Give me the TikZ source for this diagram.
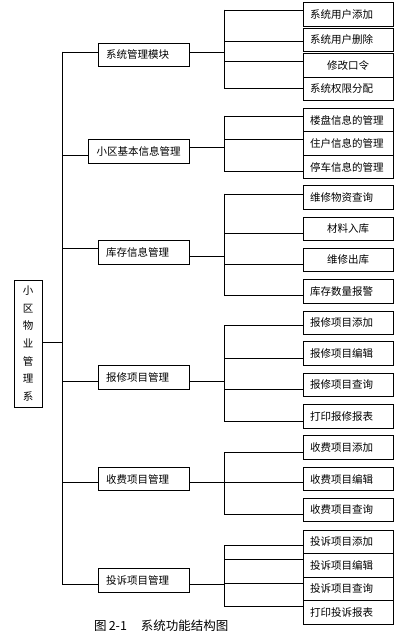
\documentclass[tikz,border=0pt]{standalone}
\usepackage{fontspec}
\newfontfamily\cjk{Noto Sans CJK SC}
\begin{document}
\begin{tikzpicture}[x=1pt,y=-1pt,
  ln/.style={line width=0.9pt, line cap=rect},
  bx/.style={draw, line width=0.9pt, inner sep=0pt, outer sep=0pt, minimum height=23.5pt, font=\cjk\fontsize{10.5}{12}\selectfont},
  lbx/.style={bx, text width=76pt, minimum width=90pt, align=left},
  cbx/.style={bx, text width=76pt, minimum width=90pt, align=center},
  pbx/.style={bx, text width=75pt, minimum width=91pt, align=left},
]
\useasboundingbox (0,0) rectangle (403,636);
% root
\node[draw, line width=0.9pt, inner sep=0pt, outer sep=0pt, minimum width=28pt, minimum height=127pt, align=center, font=\cjk\fontsize{10.5}{17.7}\selectfont] (root) at (28,343.5) {小\\区\\物\\业\\管\\理\\系};
% parents
\node[pbx] (p1) at (143.5,55) {系统管理模块};
\node[bx, minimum width=101pt, minimum height=24pt] (p2) at (138.5,151) {小区基本信息管理};
\node[pbx] (p3) at (143.5,252.5) {库存信息管理};
\node[pbx] (p4) at (143.5,377.5) {报修项目管理};
\node[pbx] (p5) at (143.5,479) {收费项目管理};
\node[pbx] (p6) at (143.5,580.5) {投诉项目管理};
% group 1
\node[lbx] (c11) at (348,14.5) {系统用户添加};
\node[lbx] (c12) at (348,40) {系统用户删除};
\node[cbx] (c13) at (348,65.3) {修改口令};
\node[lbx] (c14) at (348,88.75) {系统权限分配};
% group 2
\node[lbx] (c21) at (348,120) {楼盘信息的管理};
\node[lbx] (c22) at (348,143.5) {住户信息的管理};
\node[lbx] (c23) at (348,167) {停车信息的管理};
% group 3
\node[lbx] (c31) at (348,197.5) {维修物资查询};
\node[cbx] (c32) at (348,229) {材料入库};
\node[cbx] (c33) at (348,260) {维修出库};
\node[lbx] (c34) at (348,291.5) {库存数量报警};
% group 4
\node[lbx] (c41) at (348,323) {报修项目添加};
\node[lbx] (c42) at (348,353.5) {报修项目编辑};
\node[lbx] (c43) at (348,385) {报修项目查询};
\node[lbx] (c44) at (348,416.5) {打印报修报表};
% group 5
\node[lbx] (c51) at (348,447.5) {收费项目添加};
\node[lbx] (c52) at (348,479) {收费项目编辑};
\node[lbx] (c53) at (348,510) {收费项目查询};
% group 6
\node[lbx] (c61) at (348,541.75) {投诉项目添加};
\node[lbx] (c62) at (348,565.25) {投诉项目编辑};
\node[lbx] (c63) at (348,588.75) {投诉项目查询};
\node[lbx] (c64) at (348,612.25) {打印投诉报表};
% caption
\node[anchor=west, inner sep=0pt, font=\cjk\fontsize{12.5}{14}\selectfont] (cap) at (94,626) {图\,2-1\hspace{14pt}系统功能结构图};

% main trunk
\draw[ln] ([yshift=1.5pt]root.east) -- ++(20,0);
\draw[ln] ([yshift=3pt]p1.west) -- ++(-36,0) coordinate (m1);
\draw[ln] ([yshift=-4pt]p2.west) -- ++(-26,0);
\draw[ln] ([yshift=4.5pt]p3.west) -- ++(-36,0);
\draw[ln] ([yshift=-3.5pt]p4.west) -- ++(-36,0);
\draw[ln] ([yshift=-3pt]p5.west) -- ++(-36,0);
\draw[ln] ([yshift=-3.5pt]p6.west) -- ++(-36,0) coordinate (m6);
\draw[ln] (m1) -- (m6);

% group 1 connectors
\draw[ln] ([yshift=3pt]p1.east) -- ++(35,0);
\draw[ln] ([yshift=4.5pt]c11.west) -- ++(-79,0) coordinate (a1);
\draw[ln] ([yshift=-1pt]c12.west) -- ++(-79,0);
\draw[ln] ([yshift=4.3pt]c13.west) -- ++(-79,0);
\draw[ln] (c14.west) -- ++(-79,0) coordinate (b1);
\draw[ln] (a1) -- (b1);
% group 2
\draw[ln] ([yshift=4pt]p2.east) -- ++(35,0);
\draw[ln] ([yshift=4pt]c21.west) -- ++(-79,0) coordinate (a2);
\draw[ln] ([yshift=4.5pt]c22.west) -- ++(-79,0);
\draw[ln] ([yshift=-4pt]c23.west) -- ++(-79,0) coordinate (b2);
\draw[ln] (a2) -- (b2);
% group 3
\draw[ln] ([yshift=-3.5pt]p3.east) -- ++(35,0);
\draw[ln] ([yshift=3.5pt]c31.west) -- ++(-79,0) coordinate (a3);
\draw[ln] ([yshift=-4pt]c32.west) -- ++(-79,0);
\draw[ln] ([yshift=-4pt]c33.west) -- ++(-79,0);
\draw[ln] ([yshift=-3.5pt]c34.west) -- ++(-79,0) coordinate (b3);
\draw[ln] (a3) -- (b3);
% group 4
\draw[ln] ([yshift=-3.5pt]p4.east) -- ++(35,0);
\draw[ln] ([yshift=-2.5pt]c41.west) -- ++(-79,0) coordinate (a4);
\draw[ln] ([yshift=-4.5pt]c42.west) -- ++(-79,0);
\draw[ln] ([yshift=-4pt]c43.west) -- ++(-79,0);
\draw[ln] ([yshift=-4.5pt]c44.west) -- ++(-79,0) coordinate (b4);
\draw[ln] (a4) -- (b4);
% group 5
\draw[ln] ([yshift=-3pt]p5.east) -- ++(35,0);
\draw[ln] ([yshift=-4.5pt]c51.west) -- ++(-79,0) coordinate (a5);
\draw[ln] ([yshift=-3pt]c52.west) -- ++(-79,0);
\draw[ln] ([yshift=-4pt]c53.west) -- ++(-79,0) coordinate (b5);
\draw[ln] (a5) -- (b5);
% group 6
\draw[ln] ([yshift=-3.5pt]p6.east) -- ++(35,0);
\draw[ln] ([yshift=-3.75pt]c61.west) -- ++(-79,0) coordinate (a6);
\draw[ln] ([yshift=5.75pt]c62.west) -- ++(-79,0);
\draw[ln] ([yshift=5.25pt]c63.west) -- ++(-79,0);
\draw[ln] ([yshift=5.75pt]c64.west) -- ++(-79,0) coordinate (b6);
\draw[ln] (a6) -- (b6);
\end{tikzpicture}
\end{document}
